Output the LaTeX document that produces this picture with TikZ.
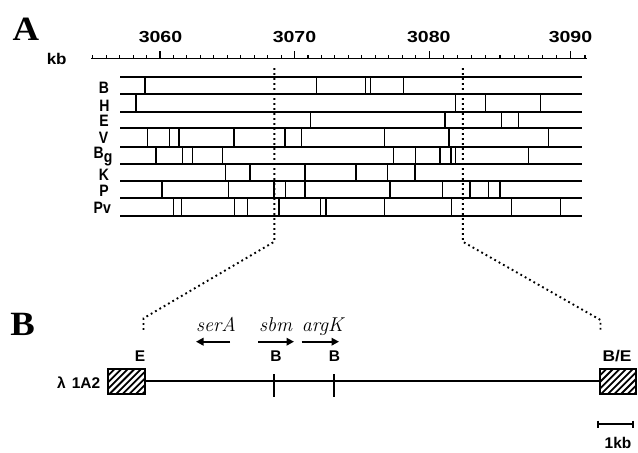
\documentclass[tikz,border=0pt]{standalone}
\usepackage{fontspec}
\newfontfamily\hv{Liberation Sans}
\newfontfamily\tms{Liberation Serif}
\usetikzlibrary{arrows.meta}
\begin{document}
\begin{tikzpicture}[x=1pt,y=-1pt,
  rowline/.style={line width=1.8pt},
  cutline/.style={line width=1.35pt},
  tickline/.style={line width=1.1pt},
  dotline/.style={line width=1.9pt, dash pattern=on 1.8pt off 3.2pt},
  lab/.style={font=\hv\bfseries\fontsize{16.5}{16.5}\selectfont, inner sep=0pt, anchor=base, xscale=0.85},
  num/.style={font=\hv\bfseries\fontsize{16}{16}\selectfont, inner sep=0pt, anchor=base, xscale=1.22},
  blab/.style={font=\hv\bfseries\fontsize{15.5}{15.5}\selectfont, inner sep=0pt, anchor=base},
  gene/.style={font=\itshape\fontsize{20}{20}\selectfont, inner sep=0pt, anchor=base},
  panel/.style={font=\tms\bfseries\fontsize{34}{34}\selectfont, inner sep=0pt, anchor=base},
  genearrow/.style={-{Triangle[length=7.5pt,width=7.5pt]}, line width=1.9pt}]
\useasboundingbox (0,0) rectangle (638,453);

% ---------- panel A ----------
\node[panel, xscale=1.08] (pA) at (25.8,40.7) {A};
\node[num] (n3060) at (160.5,42.3) {3060};
\node[num] (n3070) at (294.5,42.3) {3070};
\node[num] (n3080) at (428.8,42.3) {3080};
\node[num] (n3090) at (570.5,42.3) {3090};
\node[blab, xscale=1.1] (kb) at (56.7,64) {kb};

% axis
\draw[line width=1.5pt] (91,58.3) -- (587,58.3);
\foreach \x in {160,294.5,429.2,570.8} \draw[tickline] (\x,58.3) -- (\x,51.3);
\foreach \k in {1,...,5} \draw[tickline] ({160-\k*13.45},58.3) -- ++(0,-3);
\foreach \a/\b in {160/294.5, 294.5/429.2, 429.2/570.8}
  \foreach \k in {1,...,9} \draw[tickline] ({\a+\k*(\b-\a)/10},58.3) -- ++(0,-3);
\draw[tickline] (585,58.3) -- ++(0,-3);

% row lines
\foreach \y in {76.7,94,112.3,128.3,146.7,164,180.7,198.3,215.7}
  \draw[rowline] (120,\y) -- (582,\y);

% cuts
\foreach \t/\b/\L in {
  76.7/94/{145,316.7,365.7,370.7,403.3},
  94/112.3/{136,455.5,485.5,540.5},
  112.3/128.3/{310.7,445,501.7,518.3},
  128.3/146.7/{147.5,169.2,179,234,285,301.7,384.2,449,548.3},
  146.7/164/{156,182.3,192.5,222.5,393.3,415.8,440,451,455.5,528.3},
  164/180.7/{225.3,250,305,356,387.3,415},
  180.7/198.3/{162,228.5,274,285.7,305,390,442.5,470,488.3,500},
  198.3/215.7/{173.3,181.7,234.2,247.2,279,320.7,326,384.2,451.7,511.2,560.7}}
  \foreach \x in \L \draw[cutline] (\x,\t) -- (\x,\b);

% row labels
\node[lab] (rB) at (104,93.3) {B};
\node[lab] (rH) at (104.5,111.7) {H};
\node[lab] (rE) at (104,126.9) {E};
\node[lab] (rV) at (103.5,143.5) {V};
\node[lab, anchor=base west] (rBg) at (93.5,158.5) {B\raisebox{-4pt}{g}};
\node[lab] (rK) at (104,180) {K};
\node[lab] (rP) at (104,196.6) {P};
\node[lab, anchor=base west] (rPv) at (93.5,213.5) {Pv};

% dotted connectors
\coordinate (L1) at (274.3,68);
\coordinate (L2) at (274.3,241.7);
\coordinate (L3) at (143.5,318.3);
\coordinate (L4) at (143.5,331);
\coordinate (R1) at (462.8,68);
\coordinate (R2) at (462.8,241.7);
\coordinate (R3) at (600.5,320);
\coordinate (R4) at (600.5,331);
\draw[dotline] (L1) -- (L2) -- (L3) -- (L4);
\draw[dotline] (R1) -- (R2) -- (R3) -- (R4);

% ---------- panel B ----------
\node[panel, xscale=1.08] (pB) at (22.5,335) {B};

\node[gene] (serA) at (216,331) {serA};
\node[gene] (sbm) at (275.7,331) {sbm};
\node[gene] (argK) at (322.5,331) {argK};
\coordinate (a1s) at (230,341.7); \coordinate (a1e) at (196,341.7);
\coordinate (a2s) at (258,341.7); \coordinate (a2e) at (294,341.7);
\coordinate (a3s) at (301.7,341.7); \coordinate (a3e) at (339,341.7);
\draw[genearrow] (a1s) -- (a1e);
\draw[genearrow] (a2s) -- (a2e);
\draw[genearrow] (a3s) -- (a3e);

\node[blab] (sE) at (140,361.7) {E};
\node[blab] (sB1) at (276,361.7) {B};
\node[blab] (sB2) at (334.5,361.7) {B};
\node[blab, xscale=1.12] (sBE) at (617,361.7) {B/E};
\node[blab, anchor=base east] (lam) at (100.5,388.3) {λ\hspace{6pt}1A2};

% hatched boxes
\begin{scope}
  \clip (108.3,369.3) rectangle (145,393.8);
  \foreach \i in {0,...,10} \draw[line width=1.8pt] ({108.3-25+\i*6.6},393.8) -- ++(25,-25);
\end{scope}
\draw[line width=1.7pt] (108.3,369.3) rectangle (145,393.8);
\begin{scope}
  \clip (600,369.3) rectangle (636,393.8);
  \foreach \i in {0,...,10} \draw[line width=1.8pt] ({600-25+\i*6.6},393.8) -- ++(25,-25);
\end{scope}
\draw[line width=1.7pt] (600,369.3) rectangle (636,393.8);
\coordinate (ml) at (145,380.8);
\coordinate (mr) at (600,380.8);
\draw[line width=2.5pt] (ml) -- (mr);
\draw[line width=1.4pt] (274,374) -- (274,397);
\draw[line width=1.4pt] (334,374) -- (334,397);

% scale bar
\coordinate (s1) at (598,424);
\coordinate (s2) at (633,424);
\draw[line width=1.8pt] (s1) -- (s2);
\draw[line width=1.4pt] (598,420.5) -- (598,428);
\draw[line width=1.4pt] (633,420.5) -- (633,428);
\node[blab] (kb1) at (618,448.5) {1kb};
\end{tikzpicture}
\end{document}
